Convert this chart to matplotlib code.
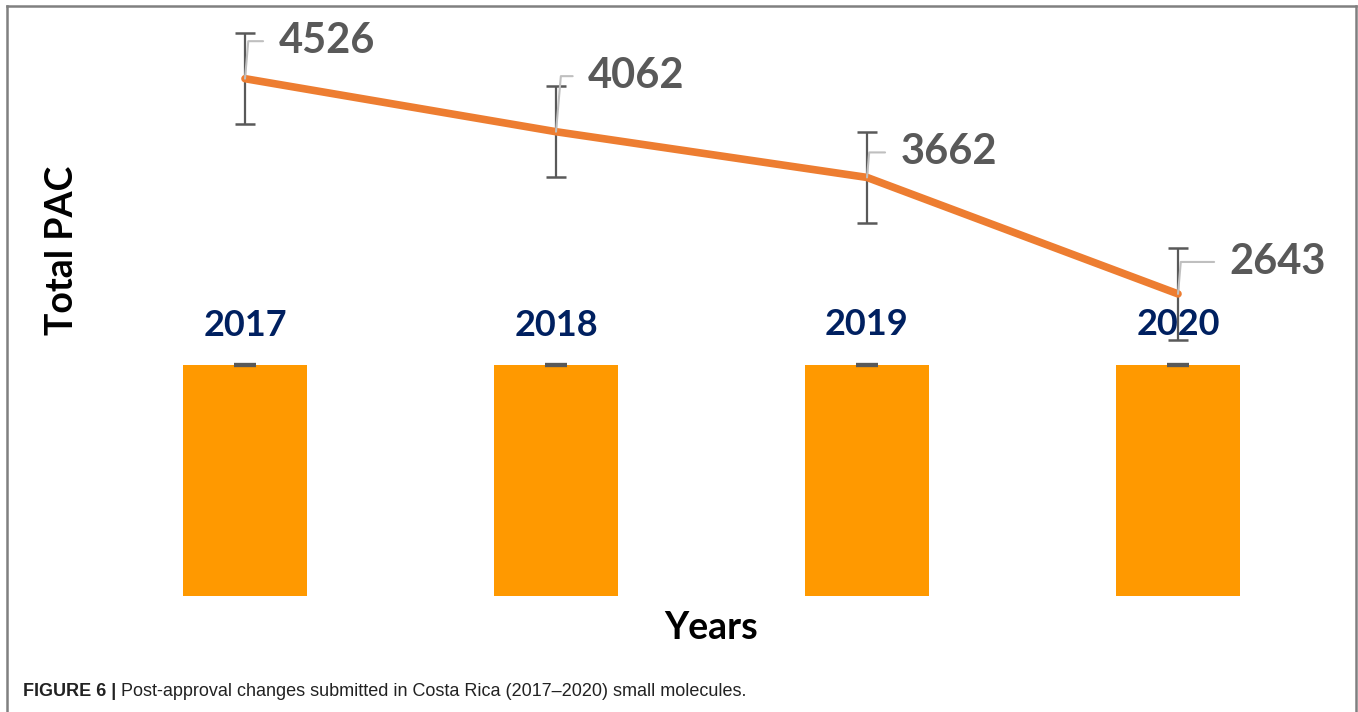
import matplotlib.pyplot as plt
from matplotlib.lines import Line2D

years = ["2017", "2018", "2019", "2020"]
year_values = [2017, 2018, 2019, 2020]
pac_totals = [4526, 4062, 3662, 2643]
pac_err = [400, 400, 400, 400]
# label offsets (points) for the value call-outs
label_offsets = [(24, 27), (23, 40), (24, 18), (37, 23)]

bar_color = "#FF9900"
line_color = "#ED7D31"
err_color = "#595959"

plt.rcParams["font.family"] = ["Lato", "DejaVu Sans"]

fig = plt.figure(figsize=(13.58, 7.12), dpi=100)
ax = fig.add_axes([89.5 / 1358, 1 - 596 / 712, 1244 / 1358, 571.5 / 712])

x = list(range(len(years)))

# bars: one per year, labelled with the year itself
ax.bar(x, year_values, width=0.40, color=bar_color, zorder=1)
ax.errorbar(x, year_values, yerr=[0] * len(x), fmt="none", ecolor=err_color,
            elinewidth=2, capsize=8, capthick=3, zorder=2)
for xi, v, lab in zip(x, year_values, years):
    ax.annotate(lab, (xi, v), xytext=(0, 29), textcoords="offset points",
                ha="center", va="center", fontsize=26, fontweight="bold",
                color="#002060", zorder=6)

# total PAC line with error bars
ax.errorbar(x, pac_totals, yerr=pac_err, fmt="none", ecolor=err_color,
            elinewidth=1.6, capsize=7, capthick=1.8, zorder=3)
ax.plot(x, pac_totals, color=line_color, lw=5.5, solid_capstyle="round", zorder=4)

for xi, v, off in zip(x, pac_totals, label_offsets):
    ax.annotate(str(v), (xi, v), xytext=off, textcoords="offset points",
                ha="left", va="center", fontsize=30, fontweight="bold",
                color="#595959", zorder=6,
                arrowprops=dict(arrowstyle="-", color="#bfbfbf", lw=1.5,
                                connectionstyle="angle,angleA=0,angleB=85,rad=0",
                                relpos=(0, 0.5), shrinkA=9, shrinkB=0))

ax.set_xlim(-0.5, 3.5)
ax.set_ylim(0, 5000)
ax.set_xticks([])
ax.set_yticks([])
for s in ax.spines.values():
    s.set_visible(False)

fig.text(62 / 1358, 1 - 250 / 712, "Total PAC", rotation=90, ha="center",
         va="center", fontsize=27, fontweight="bold", color="black")
fig.text(711 / 1358, 1 - 628 / 712, "Years", ha="center", va="center",
         fontsize=27, fontweight="bold", color="black")

# caption
cap_fonts = ["Liberation Sans Narrow", "Liberation Sans", "DejaVu Sans"]
t1 = fig.text(23 / 1358, 1 - 692 / 712, "FIGURE 6 |", ha="left", va="center",
              fontsize=13, fontweight="bold", color="#222222", family=cap_fonts)
fig.canvas.draw()
bb = t1.get_window_extent()
fig.text((bb.x1 + 5) / 1358, 1 - 692 / 712,
         "Post-approval changes submitted in Costa Rica (2017\u20132020) small molecules.",
         ha="left", va="center", fontsize=13, color="#222222", family=cap_fonts)

# frame around the figure panel (open at the bottom)
frame = dict(color="#808080", lw=1.8, transform=fig.transFigure)
fig.add_artist(Line2D([7 / 1358, 7 / 1358], [0, 1 - 6 / 712], **frame))
fig.add_artist(Line2D([7 / 1358, 1356 / 1358], [1 - 6 / 712, 1 - 6 / 712], **frame))
fig.add_artist(Line2D([1356 / 1358, 1356 / 1358], [0, 1 - 6 / 712], **frame))

fig.savefig("out.png", dpi=100)
